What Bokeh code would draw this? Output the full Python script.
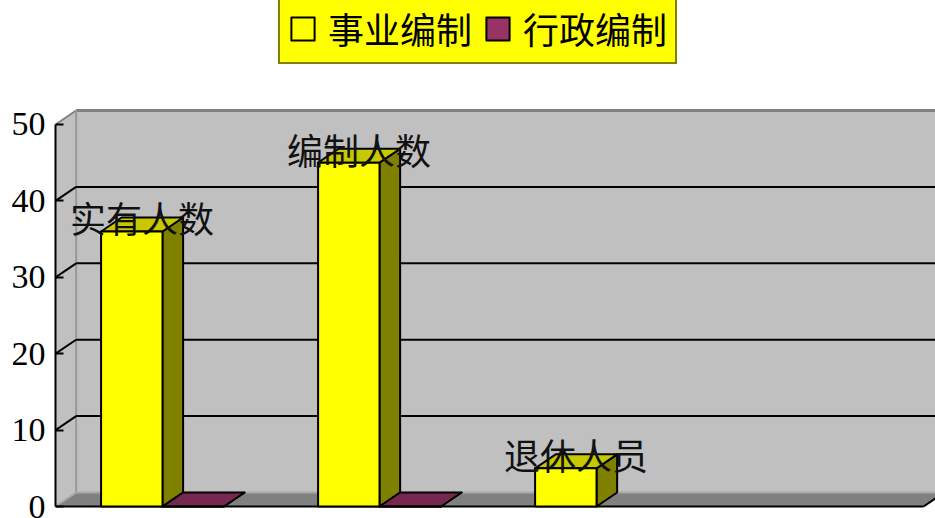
import numpy as np
from bokeh.plotting import figure
from bokeh.models import Legend, LegendItem, FixedTicker
from bokeh.core.properties import value
from bokeh.embed import file_html
from bokeh.resources import INLINE

# ---- data ----
categories = ["实有人数", "编制人数", "退休人员"]
series_names = ["事业编制", "行政编制"]
shiye = [36, 45, 5]
xingzheng = [0, 0, None]
y_ticks = [0, 10, 20, 30, 40, 50]

# ---- styles / layout ----
front_colors = ["#FFFF00", "#993366"]
top_colors = ["#C8C800", "#77284F"]
side_colors = ["#808000", "#4D1A33"]
SLOTS = 4          # category slots on the floor
DX = 0.095         # depth offset (x units)
DY = 1.83          # depth offset (y units)
OFF = 0.21         # first bar offset inside slot
BW = 0.283         # bar width
YMAX = 50
CJK_NAME = "Noto Sans CJK SC"
CJK = value(CJK_NAME)

p = figure(width=935, height=518, x_range=(0, 4.055), y_range=(-1.57, 66.23),
           output_backend="svg", toolbar_location=None, x_axis_location=None,
           min_border_left=55, min_border_right=0, min_border_top=0, min_border_bottom=0,
           background_fill_color="white", border_fill_color="white", outline_line_color=None)
p.grid.visible = False

# y axis (front-left edge)
ya = p.yaxis[0]
ya.ticker = FixedTicker(ticks=y_ticks)
ya.bounds = (0, YMAX)
ya.axis_line_width = 2
ya.axis_line_color = "black"
ya.major_tick_in = 8
ya.major_tick_out = 0
ya.major_tick_line_width = 2
ya.minor_tick_line_color = None
ya.major_label_standoff = 10
ya.major_label_text_font = "Liberation Serif"
ya.major_label_text_font_size = "34px"
ya.major_label_text_color = "black"

xe = SLOTS            # floor front right end
xb = SLOTS + DX       # floor back right end

# back wall
p.quad(left=DX, right=xb + 0.2, bottom=DY, top=YMAX + DY, fill_color="#C0C0C0", line_color=None)
# left wall
p.patch([0, DX, DX, 0], [0, DY, YMAX + DY, YMAX], fill_color="#C0C0C0", line_color=None)
# floor
p.patch([0, xe, xb, DX], [0, 0, DY, DY], fill_color="#808080", line_color=None)

# wall edges
p.segment(x0=[DX], y0=[YMAX + DY], x1=[xb + 0.2], y1=[YMAX + DY], line_color="#808080", line_width=3)
p.segment(x0=[0], y0=[YMAX], x1=[DX], y1=[YMAX + DY], line_color="#808080", line_width=2)
p.segment(x0=[DX], y0=[DY], x1=[DX], y1=[YMAX + DY], line_color="#999999", line_width=2)
p.segment(x0=[DX], y0=[DY], x1=[xb + 0.2], y1=[DY], line_color="#A8A8A8", line_width=2)
p.segment(x0=[0], y0=[0], x1=[DX], y1=[DY], line_color="#A8A8A8", line_width=2)

# gridlines (back wall + left wall)
gv = [v for v in y_ticks if 0 < v < YMAX]
p.segment(x0=[DX] * len(gv), y0=[v + DY for v in gv], x1=[xb + 0.2] * len(gv), y1=[v + DY for v in gv],
          line_color="black", line_width=2)
p.segment(x0=[0] * len(gv), y0=gv, x1=[DX] * len(gv), y1=[v + DY for v in gv],
          line_color="black", line_width=2)

# floor front edge and right edge
p.segment(x0=[0], y0=[0], x1=[xe], y1=[0], line_color="black", line_width=2)
p.segment(x0=[xe], y0=[0], x1=[xb], y1=[DY], line_color="black", line_width=2)

# bars
front_renderers = []
for s, vals in enumerate([shiye, xingzheng]):
    fx, fy, tx, ty, sx, sy = [], [], [], [], [], []
    for c, v in enumerate(vals):
        if v is None:
            continue
        x0 = c + OFF + s * BW
        x1 = x0 + BW
        fx.append([x0, x1, x1, x0]); fy.append([0, 0, v, v])
        tx.append([x0, x1, x1 + DX, x0 + DX]); ty.append([v, v, v + DY, v + DY])
        sx.append([x1, x1 + DX, x1 + DX, x1]); sy.append([0, DY, v + DY, v])
    p.patches(sx, sy, fill_color=side_colors[s], line_color="black", line_width=2, line_join="round")
    p.patches(tx, ty, fill_color=top_colors[s], line_color="black", line_width=2, line_join="round")
    r = p.patches(fx, fy, fill_color=front_colors[s], line_color="black", line_width=2, line_join="round")
    front_renderers.append(r)

# data labels (category names)
lx = [c + OFF + BW / 2 + DX / 2 for c in range(len(categories))]
ly = [v + DY for v in shiye]
p.text(x=lx, y=ly, text=categories, text_align="center", text_baseline="middle",
       text_font=CJK, text_font_size="36px", text_color="#111111")

legend = Legend(items=[LegendItem(label=series_names[i], renderers=[front_renderers[i]]) for i in range(2)],
                orientation="horizontal", location=(223, 454), margin=0,
                background_fill_color="#FFFF00", background_fill_alpha=1,
                border_line_color="black", border_line_width=2,
                label_text_font="Liberation Sans, Noto Sans CJK SC", label_text_font_size="36px",
                label_text_color="black",
                glyph_width=29, glyph_height=29, padding=8, spacing=11, label_standoff=11)
p.add_layout(legend)

open("out.html", "w").write(file_html(p, INLINE))
